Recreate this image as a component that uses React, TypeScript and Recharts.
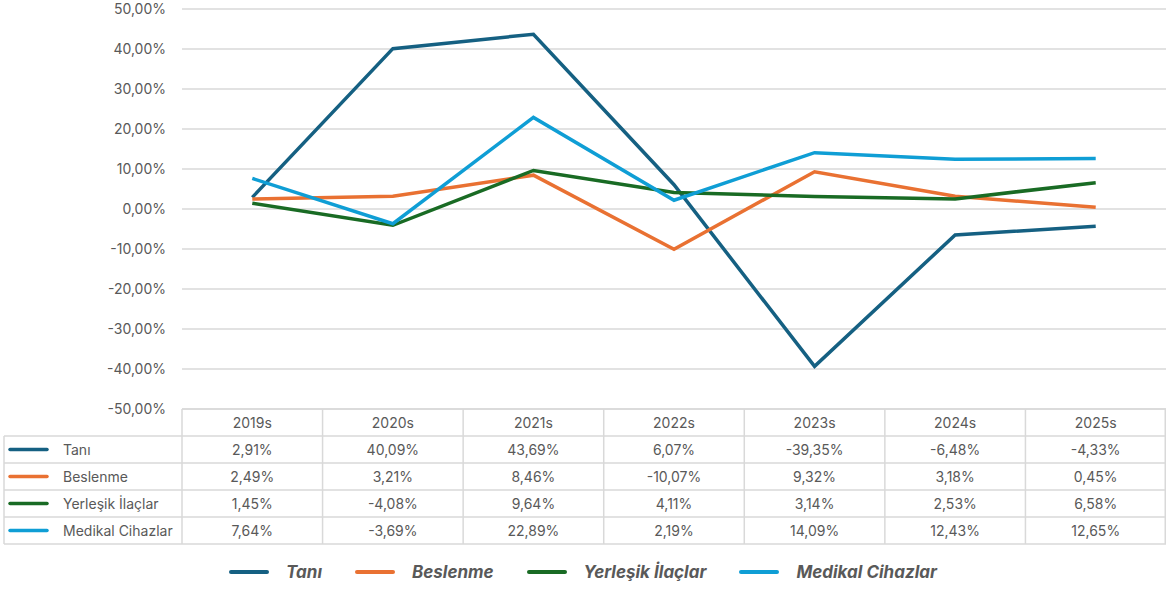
import React from "react";
import { LineChart, Line, XAxis, YAxis, CartesianGrid } from "recharts";

const categories = ["2019s", "2020s", "2021s", "2022s", "2023s", "2024s", "2025s"];
const tani = [2.91, 40.09, 43.69, 6.07, -39.35, -6.48, -4.33];
const beslenme = [2.49, 3.21, 8.46, -10.07, 9.32, 3.18, 0.45];
const yerlesik = [1.45, -4.08, 9.64, 4.11, 3.14, 2.53, 6.58];
const medikal = [7.64, -3.69, 22.89, 2.19, 14.09, 12.43, 12.65];
const yTicks = [-50, -40, -30, -20, -10, 0, 10, 20, 30, 40, 50];

const seriesDefs = [
  { key: "tani", name: "Tanı", color: "#156082", values: tani },
  { key: "beslenme", name: "Beslenme", color: "#E97132", values: beslenme },
  { key: "yerlesik", name: "Yerleşik İlaçlar", color: "#196B24", values: yerlesik },
  { key: "medikal", name: "Medikal Cihazlar", color: "#0F9ED5", values: medikal },
];

const data = categories.map((c, i) => {
  const row: any = { cat: c };
  seriesDefs.forEach((s) => (row[s.key] = s.values[i]));
  return row;
});

const fmt = (v: number) => v.toFixed(2).replace(".", ",") + "%";

const W = 1166;
const H = 589;
const AXIS_W = 182;
const TOP = 9;
const PLOT_H = 400;
const CHART_BOTTOM_PAD = 20;
const FONT = "Inter, 'Noto Sans', sans-serif";
const TXT = "#595959";
const GRID = "#D9D9D9";
const COL_W = (W - AXIS_W) / categories.length;

function DataTable() {
  const left = AXIS_W;
  const right = W;
  const cw = COL_W;
  const tableTop = TOP + PLOT_H;
  const rowH = 27;
  const rows = seriesDefs.length;
  const bottom = tableTop + rowH * (rows + 1);
  const lines: React.ReactNode[] = [];
  lines.push(<line key="h0" x1={left} x2={right} y1={tableTop} y2={tableTop} />);
  for (let r = 1; r <= rows + 1; r++) {
    const y = tableTop + r * rowH;
    lines.push(<line key={"h" + r} x1={4} x2={right} y1={y} y2={y} />);
  }
  lines.push(<line key="vL" x1={4} x2={4} y1={tableTop + rowH} y2={bottom} />);
  for (let c = 0; c <= categories.length; c++) {
    const x = Math.min(left + c * cw, right - 0.75);
    lines.push(<line key={"v" + c} x1={x} x2={x} y1={tableTop} y2={bottom} />);
  }
  return (
    <svg width={W} height={H} style={{ position: "absolute", left: 0, top: 0, pointerEvents: "none" }}>
      <g stroke={GRID} strokeWidth={1.5}>{lines}</g>
      <g fontFamily={FONT} fontSize={14} fill={TXT}>
        {categories.map((c, i) => (
          <text key={c} x={left + cw * (i + 0.5)} y={tableTop + rowH / 2} textAnchor="middle" dominantBaseline="central">
            {c}
          </text>
        ))}
        {seriesDefs.map((s, r) => {
          const cy = tableTop + rowH * (r + 1.5);
          return (
            <g key={s.key}>
              <line x1={10} x2={47} y1={cy} y2={cy} stroke={s.color} strokeWidth={3.5} strokeLinecap="round" />
              <text x={63} y={cy} dominantBaseline="central">{s.name}</text>
              {s.values.map((v, i) => (
                <text key={i} x={left + cw * (i + 0.5)} y={cy} textAnchor="middle" dominantBaseline="central">
                  {fmt(v)}
                </text>
              ))}
            </g>
          );
        })}
      </g>
    </svg>
  );
}

function BottomLegend() {
  return (
    <div
      style={{
        position: "absolute",
        left: 0,
        top: 560,
        width: W,
        height: 24,
        display: "flex",
        justifyContent: "center",
        alignItems: "center",
        fontFamily: FONT,
        fontSize: 17,
        fontWeight: 700,
        fontStyle: "italic",
        color: TXT,
      }}
    >
      {seriesDefs.map((s, i) => (
        <div key={s.key} style={{ display: "flex", alignItems: "center", marginLeft: i === 0 ? 0 : 33 }}>
          <div style={{ width: 40, height: 4, borderRadius: 2, background: s.color, marginRight: 17 }} />
          <span>{s.name}</span>
        </div>
      ))}
    </div>
  );
}

export default function App() {
  return (
    <div style={{ position: "absolute", left: 0, top: 0, width: W, height: H, background: "#fff" }}>
      <div style={{ position: "absolute", left: 0, top: 0 }}>
        <LineChart
          width={W}
          height={TOP + PLOT_H + CHART_BOTTOM_PAD}
          data={data}
          margin={{ top: TOP, right: 0, left: 0, bottom: CHART_BOTTOM_PAD }}
        >
          <CartesianGrid vertical={false} stroke={GRID} strokeWidth={1.5} />
          <XAxis dataKey="cat" hide padding={{ left: COL_W / 2, right: COL_W / 2 }} />
          <YAxis
            width={AXIS_W}
            domain={[-50, 50]}
            ticks={yTicks}
            tickFormatter={(v: number) => fmt(v)}
            axisLine={false}
            tickLine={false}
            tickSize={0}
            tickMargin={16}
            interval={0}
            tick={{ fill: TXT, fontSize: 14, fontFamily: FONT }}
          />
          {seriesDefs.map((s) => (
            <Line
              key={s.key}
              dataKey={s.key}
              name={s.name}
              stroke={s.color}
              strokeWidth={3.5}
              dot={false}
              activeDot={false}
              type="linear"
              isAnimationActive={false}
            />
          ))}
        </LineChart>
      </div>
      <DataTable />
      <BottomLegend />
    </div>
  );
}
